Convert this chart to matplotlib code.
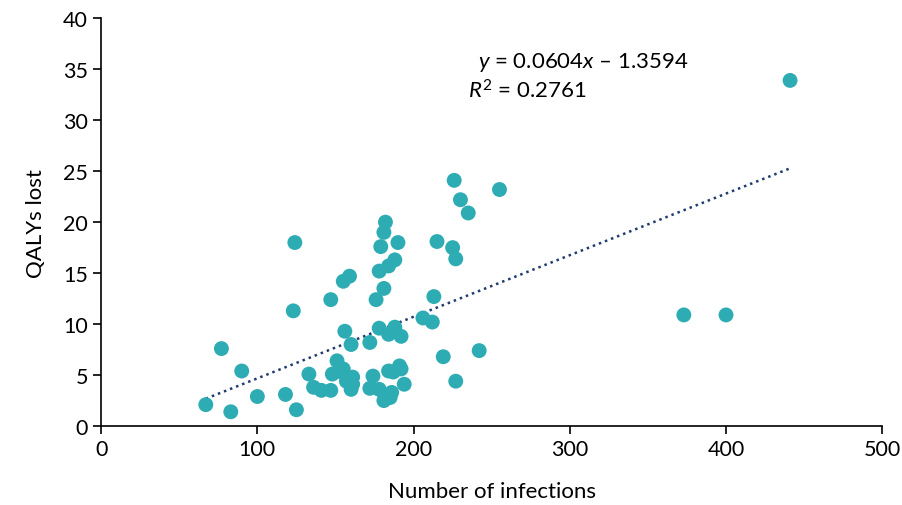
import matplotlib
matplotlib.use("Agg")
import matplotlib.pyplot as plt
import numpy as np

plt.rcParams['font.family'] = ['Lato', 'DejaVu Sans']
plt.rcParams['mathtext.fontset'] = 'custom'
plt.rcParams['mathtext.rm'] = 'Lato'
plt.rcParams['mathtext.it'] = 'Lato:italic'

# infections vs QALYs lost
infections = [67, 83, 77, 90, 100, 118, 125, 124, 123,
              133, 136, 141, 147, 147, 148, 151, 154, 155, 155, 159,
              156, 160, 157, 161, 161, 160, 172, 174, 172, 176,
              178, 178, 179, 178, 181, 182, 181, 184, 184, 188,
              188, 190, 192, 181, 185, 186, 184, 187, 191, 192, 194,
              206, 212, 213, 215, 219, 225, 226, 227, 227, 230,
              235, 242, 255, 373, 400, 441]
qalys = [2.1, 1.4, 7.6, 5.4, 2.9, 3.1, 1.6, 18.0, 11.3,
         5.1, 3.8, 3.5, 3.5, 12.4, 5.1, 6.4, 5.3, 5.6, 14.2, 14.7,
         9.3, 8.0, 4.4, 4.8, 4.1, 3.6, 8.2, 4.9, 3.7, 12.4,
         9.6, 15.2, 17.6, 3.6, 13.5, 20.0, 19.0, 15.7, 9.0, 9.7,
         16.3, 18.0, 8.8, 2.5, 2.8, 3.3, 5.4, 5.3, 5.9, 5.6, 4.1,
         10.6, 10.2, 12.7, 18.1, 6.8, 17.5, 24.1, 16.4, 4.4, 22.2,
         20.9, 7.4, 23.2, 10.9, 10.9, 33.9]

# fitted line as reported on the chart
slope = 0.0604
intercept = -1.3594
r2 = 0.2761

fig = plt.figure(figsize=(9.03, 5.06), dpi=100)
ax = fig.add_axes([0.112, 0.156, 0.865, 0.806])

ax.scatter(infections, qalys, s=115, color='#2eacb3', edgecolors='none', zorder=3)

xs = np.array([min(infections), max(infections)])
ax.plot(xs, slope * xs + intercept, color='#1f3b70', lw=1.8, ls=(0, (1, 1.6)), zorder=2)

ax.text(241, 35.8, '$y$ = 0.0604$x$ \u2013 1.3594', fontsize=16, va='center')
ax.text(235, 33.0, '$R^{2}$ = %.4f' % r2, fontsize=16, va='center')

ax.set_xlim(0, 500)
ax.set_ylim(0, 40)
ax.set_xticks(range(0, 501, 100))
ax.set_yticks(range(0, 41, 5))
for s in ['top', 'right']:
    ax.spines[s].set_visible(False)
for s in ['left', 'bottom']:
    ax.spines[s].set_linewidth(1.2)
ax.tick_params(direction='out', length=6, width=1.2, labelsize=15.5)

ax.set_xlabel('Number of infections', fontsize=16, labelpad=16)
ax.set_ylabel('QALYs lost', fontsize=16, labelpad=12)

fig.savefig('out.png', dpi=100)
